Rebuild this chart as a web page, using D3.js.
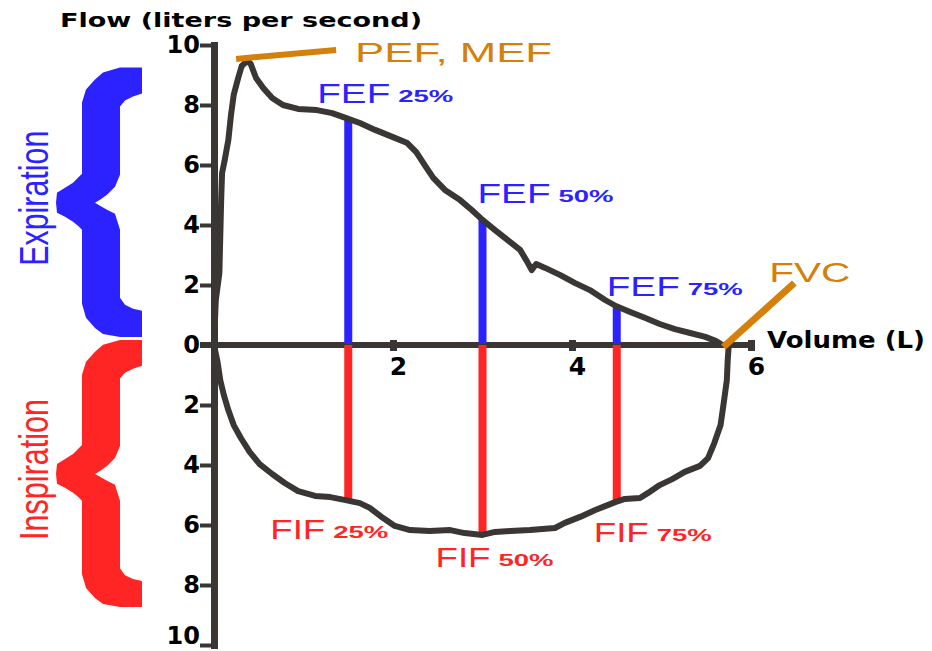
<!DOCTYPE html>
<html>
<head>
<meta charset="utf-8">
<script src="https://cdn.jsdelivr.net/npm/d3@7/dist/d3.min.js"></script>
<style>
body{margin:0;background:#fff}
</style>
</head>
<body>
<svg id="chart" width="932" height="651"></svg>
<script>
// flow-volume loop: expiration above the axis, inspiration below
var expVolume=[0,0.02,0.06,0.08,0.09,0.12,0.16,0.19,0.22,0.27,0.31,0.37,0.41,0.47,0.55,0.65,0.77,0.94,1.15,1.32,1.47,1.63,1.8,2.0,2.16,2.26,2.36,2.45,2.58,2.75,2.88,3.0,3.14,3.31,3.42,3.5,3.55,3.6,3.7,3.87,4.03,4.2,4.37,4.49,4.65,4.82,4.98,5.15,5.32,5.49,5.61,5.68];
var expFlow=[0,1.5,2.4,4.83,5.73,6.17,6.83,7.67,8.33,8.9,9.3,9.47,9.37,8.9,8.57,8.23,8.0,7.87,7.83,7.73,7.57,7.4,7.17,6.93,6.73,6.43,5.97,5.57,5.17,4.83,4.5,4.17,3.83,3.43,3.17,2.77,2.5,2.7,2.57,2.33,2.07,1.83,1.5,1.3,1.1,0.9,0.7,0.53,0.4,0.27,0.13,0];
var inspVolume=[0,0.04,0.07,0.11,0.16,0.22,0.3,0.4,0.51,0.65,0.79,0.94,1.13,1.3,1.47,1.63,1.74,1.89,2.02,2.19,2.41,2.64,2.8,3.0,3.14,3.31,3.53,3.81,3.92,4.09,4.26,4.37,4.49,4.59,4.76,4.85,4.98,5.12,5.26,5.43,5.52,5.59,5.66,5.7,5.73,5.74,5.75];
var inspFlow=[0,-0.57,-1.17,-1.67,-2.17,-2.67,-3.1,-3.57,-3.97,-4.3,-4.6,-4.87,-5.03,-5.07,-5.17,-5.27,-5.43,-5.77,-6.03,-6.17,-6.2,-6.17,-6.27,-6.33,-6.23,-6.2,-6.17,-6.1,-5.93,-5.73,-5.5,-5.37,-5.23,-5.13,-5.1,-4.93,-4.67,-4.47,-4.23,-4.03,-3.77,-3.27,-2.67,-1.83,-1.17,-0.5,-0.07];
var markVolume=[1.5,3.0,4.5];
var fefFlow=[7.57,4.17,1.27];
var fifFlow=[-5.17,-6.33,-5.23];
var markPct=["25%","50%","75%"];
var yTicks=[10,8,6,4,2,0,-2,-4,-6,-8,-10];
var xTicks=[2,4,6];
var braceRange=[[9.25,0.27],[0.17,-8.73]];
var braceText=["Expiration","Inspiration"];

var GREY="#393633",BLUE="#2b22ff",RED="#ff2525",ORANGE="#d4800b";
var svg=d3.select("#chart");
var x=d3.scaleLinear().domain([0,6]).range([214,751]);
var y=d3.scaleLinear().domain([10,-10]).range([45,645]);

/*大括号*/
var braceShape=[[142,0],[142,26],[133,29],[125,33],[120,39],[120,107],[115,119],[107,127],[100,132],[95,135],[100,138],[107,142],[115,146],[120,162],[120,230],[125,237],[133,241],[142,243],[142,269],[120,269],[103,266],[95,260],[86,250],[82,236],[82,162],[78,158],[73,154],[65,149],[57,145],[56,135],[57,125],[65,120],[73,115],[78,110],[82,106],[82,35],[86,22],[95,12],[103,5],[120,0]];
var braceColor=[BLUE,RED];
braceRange.forEach(function(r,i){
	var t=y(r[0]),b=y(r[1]),k=(b-t)/269;
	var shape=d3.line().x(function(p){return p[0];}).y(function(p){return t+p[1]*k;}).curve(d3.curveLinearClosed);
	svg.append("path").attr("d",shape(braceShape)).attr("fill",braceColor[i]);
	svg.append("text").attr("transform","translate(48,"+((t+b)/2-4)+") rotate(-90)")
		.attr("text-anchor","middle").attr("font-family","Liberation Sans, Arial, sans-serif")
		.attr("font-size",41).attr("fill",braceColor[i])
		.attr("textLength",i==0?135:141).attr("lengthAdjust","spacingAndGlyphs")
		.text(braceText[i]);
});

/*坐标轴*/
var yAxis=svg.append("g").attr("transform","translate("+x(0)+",0)")
	.call(d3.axisLeft(y).tickValues(yTicks).tickSize(14).tickSizeOuter(0).tickPadding(0)
	.tickFormat(function(d){return Math.abs(d);}));
yAxis.select(".domain").attr("stroke",GREY).attr("stroke-width",7).attr("stroke-linecap","square");
yAxis.selectAll(".tick line").attr("stroke",GREY).attr("stroke-width",4);
yAxis.selectAll(".tick text").attr("font-family","DejaVu Sans, sans-serif").attr("font-weight","bold")
	.attr("font-size",24).attr("fill","#000")
	.attr("dy",function(d){return d==-10?"-0.06em":"0.3em";});

svg.append("line").attr("x1",x(0)-14).attr("x2",x(6)+4).attr("y1",y(0)).attr("y2",y(0))
	.attr("stroke",GREY).attr("stroke-width",6);
var xAxis=svg.append("g").attr("transform","translate(0,"+y(0)+")")
	.call(d3.axisBottom(x).tickValues(xTicks).tickSize(6).tickSizeOuter(0).tickFormat(d3.format("d")));
xAxis.select(".domain").remove();
xAxis.selectAll(".tick line").attr("y1",-5).attr("stroke",GREY).attr("stroke-width",7);
xAxis.selectAll(".tick text").attr("x",5).attr("y",30).attr("dy",0)
	.attr("font-family","DejaVu Sans, sans-serif").attr("font-weight","bold")
	.attr("font-size",25).attr("fill","#000");

svg.append("text").attr("x",60).attr("y",27).attr("font-family","DejaVu Sans, sans-serif")
	.attr("font-weight","bold").attr("font-size",20).attr("textLength",362)
	.attr("lengthAdjust","spacingAndGlyphs").text("Flow (liters per second)");
svg.append("text").attr("x",767).attr("y",348).attr("font-family","DejaVu Sans, sans-serif")
	.attr("font-weight","bold").attr("font-size",23).attr("textLength",158)
	.attr("lengthAdjust","spacingAndGlyphs").text("Volume (L)");

/*FEF / FIF 标线*/
svg.selectAll(".fef").data(markVolume).enter().append("line").attr("class","fef")
	.attr("x1",function(d){return x(d);}).attr("x2",function(d){return x(d);})
	.attr("y1",y(0)-1).attr("y2",function(d,i){return y(fefFlow[i]);})
	.attr("stroke",BLUE).attr("stroke-width",8);
svg.selectAll(".fif").data(markVolume).enter().append("line").attr("class","fif")
	.attr("x1",function(d){return x(d);}).attr("x2",function(d){return x(d);})
	.attr("y1",y(0)).attr("y2",function(d,i){return y(fifFlow[i]);})
	.attr("stroke",RED).attr("stroke-width",8);

/*曲线*/
var line=d3.line().x(function(d){return x(d[0]);}).y(function(d){return y(d[1]);});
svg.append("path").attr("d",line(d3.zip(expVolume,expFlow))).attr("fill","none")
	.attr("stroke",GREY).attr("stroke-width",6).attr("stroke-linejoin","round");
svg.append("path").attr("d",line(d3.zip(inspVolume,inspFlow))).attr("fill","none")
	.attr("stroke",GREY).attr("stroke-width",6).attr("stroke-linejoin","round");

/*标签*/
var fefOffset=[[-31,-15],[-5,-17],[-10,-11]];
var fifOffset=[[-78,39],[-47,32],[-23,40]];
function markLabel(name,color,vol,flow,off,pct,mainW){
	var lx=x(vol)+off[0],ly=y(flow)+off[1];
	svg.append("text").attr("x",lx).attr("y",ly).attr("font-family","Liberation Sans, Arial, sans-serif")
		.attr("font-size",28).attr("fill",color).attr("textLength",mainW)
		.attr("lengthAdjust","spacingAndGlyphs").text(name);
	svg.append("text").attr("x",lx+mainW+8).attr("y",ly-1).attr("font-family","Liberation Sans, Arial, sans-serif")
		.attr("font-weight","bold").attr("font-size",17).attr("fill",color).attr("textLength",55)
		.attr("lengthAdjust","spacingAndGlyphs").text(pct);
}
markVolume.forEach(function(v,i){
	markLabel("FEF",BLUE,v,fefFlow[i],fefOffset[i],markPct[i],73);
	markLabel("FIF",RED,v,fifFlow[i],fifOffset[i],markPct[i],55);
});

/*PEF, FVC 标注*/
var peakI=d3.maxIndex(expFlow);
var px=x(expVolume[peakI]),py=y(expFlow[peakI]);
svg.append("line").attr("x1",px-11).attr("y1",py-2).attr("x2",px+89).attr("y2",py-11)
	.attr("stroke",ORANGE).attr("stroke-width",6);
svg.append("text").attr("x",px+108).attr("y",py+1).attr("font-family","Liberation Sans, Arial, sans-serif")
	.attr("font-size",28).attr("fill",ORANGE).attr("textLength",197)
	.attr("lengthAdjust","spacingAndGlyphs").text("PEF, MEF");
var fx=x(expVolume[expVolume.length-1]),fy=y(0);
svg.append("line").attr("x1",fx+1).attr("y1",fy+2).attr("x2",fx+72).attr("y2",fy-62)
	.attr("stroke",ORANGE).attr("stroke-width",7);
svg.append("text").attr("x",fx+47).attr("y",fy-63).attr("font-family","Liberation Sans, Arial, sans-serif")
	.attr("font-size",28).attr("fill",ORANGE).attr("textLength",81)
	.attr("lengthAdjust","spacingAndGlyphs").text("FVC");
</script>
</body>
</html>
